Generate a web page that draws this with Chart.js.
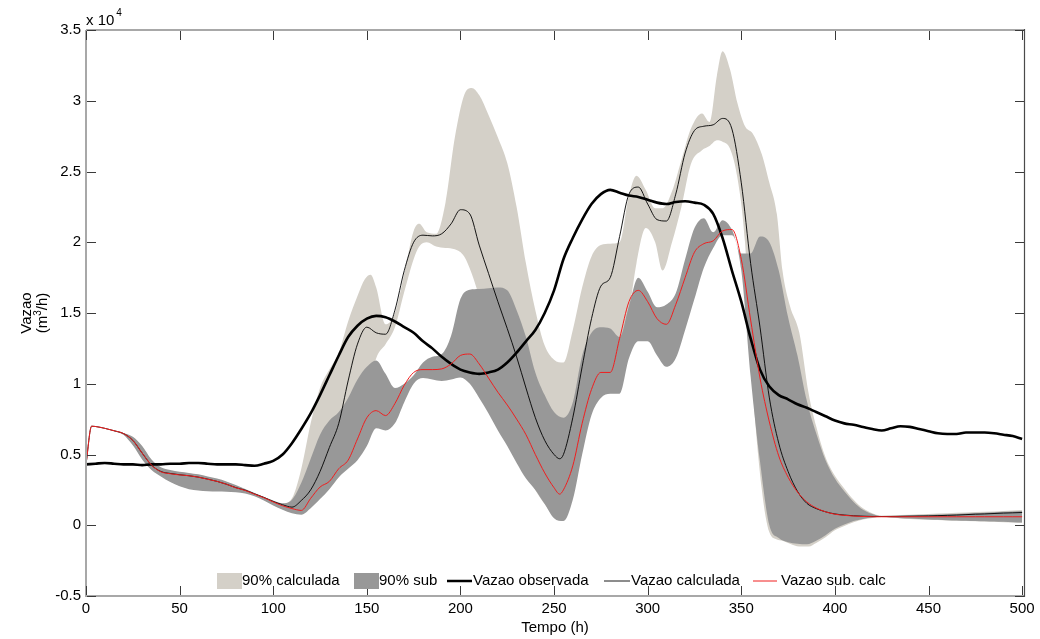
<!DOCTYPE html>
<html>
<head>
<meta charset="utf-8">
<script src="https://cdn.jsdelivr.net/npm/chart.js@4.4.1/dist/chart.umd.min.js"></script>
<style>
  html, body { margin: 0; padding: 0; background: #fff; }
  canvas { display: block; }
</style>
</head>
<body>
<canvas id="vazao" width="1040" height="639"></canvas>
<script>
// Hydrograph: observed discharge, calculated discharge and their 90% bands (values in 10^4 m3/h)

// observed discharge, samples every 5 h
const tObs = [
  0, 5, 10, 15, 20, 25, 30, 35, 40, 45,
  50, 55, 60, 65, 70, 75, 80, 85, 90, 95,
  100, 105, 110, 115, 120, 125, 130, 135, 140, 145,
  150, 155, 160, 165, 170, 175, 180, 185, 190, 195,
  200, 205, 210, 215, 220, 225, 230, 235, 240, 245,
  250, 255, 260, 265, 270, 275, 280, 285, 290, 295,
  300, 305, 310, 315, 320, 325, 330, 335, 340, 345,
  350, 355, 360, 365, 370, 375, 380, 385, 390, 395,
  400, 405, 410, 415, 420, 425, 430, 435, 440, 445,
  450, 455, 460, 465, 470, 475, 480, 485, 490, 495, 500
];
const vObservada = [
  0.43, 0.435, 0.44, 0.435, 0.43, 0.43, 0.425, 0.43, 0.43, 0.435,
  0.435, 0.44, 0.44, 0.435, 0.43, 0.43, 0.43, 0.425, 0.42, 0.435,
  0.455, 0.5, 0.58, 0.68, 0.79, 0.92, 1.06, 1.2, 1.33, 1.41,
  1.46, 1.48, 1.47, 1.44, 1.4, 1.36, 1.3, 1.25, 1.19, 1.14,
  1.1, 1.08, 1.07, 1.08, 1.1, 1.15, 1.22, 1.3, 1.38, 1.5,
  1.66, 1.88, 2.03, 2.16, 2.27, 2.34, 2.37, 2.35, 2.33, 2.32,
  2.3, 2.28, 2.27, 2.285, 2.29, 2.28, 2.265, 2.2, 2.03, 1.8,
  1.58, 1.32, 1.1, 0.98, 0.92, 0.89, 0.855, 0.83, 0.8, 0.77,
  0.74, 0.72, 0.71, 0.695, 0.68, 0.67, 0.685, 0.7, 0.695, 0.68,
  0.665, 0.65, 0.645, 0.645, 0.655, 0.655, 0.655, 0.65, 0.64, 0.63, 0.61
];

// calculated and sub-calculated discharge
const tCalc = [
  0, 3, 5, 10, 15, 20, 25, 30, 35, 40, 45,
  50, 55, 60, 65, 70, 75, 80, 85, 90, 95,
  100, 105, 110, 115, 120, 125, 130, 135, 140, 145,
  150, 155, 160, 165, 170, 175, 180, 185, 190, 195,
  200, 205, 210, 215, 220, 225, 230, 235, 240, 245, 250,
  253,
  255, 260, 265, 270, 275, 280, 285, 290, 295,
  300, 305, 310, 315, 320, 325, 330, 335, 340, 345,
  350, 355, 360, 365, 370, 375, 380, 385, 390, 395,
  400, 405, 410, 415, 420, 425, 430, 435, 440, 445,
  450, 455, 460, 465, 470, 475, 480, 485, 490, 495, 500
];
const vCalculada = [
  0.43, 0.70, 0.698, 0.685, 0.668, 0.648, 0.60, 0.51, 0.425, 0.38, 0.366,
  0.357, 0.35, 0.34, 0.326, 0.31, 0.29, 0.266, 0.248, 0.222, 0.197,
  0.168, 0.145, 0.128, 0.175, 0.25, 0.38, 0.55, 0.72, 1.02, 1.28,
  1.4, 1.36, 1.35, 1.52, 1.8, 2.0, 2.05, 2.045, 2.06, 2.13,
  2.23, 2.2, 1.98, 1.78, 1.58, 1.39, 1.19, 0.97, 0.76, 0.6, 0.5,
  0.47,
  0.5, 0.76, 1.12, 1.46, 1.69, 1.75, 2.04, 2.34, 2.39,
  2.27, 2.16, 2.15, 2.34, 2.63, 2.79, 2.82, 2.83, 2.875, 2.8,
  2.42, 1.85, 1.4, 0.9, 0.58, 0.38, 0.24, 0.155, 0.118, 0.095,
  0.08, 0.072, 0.067, 0.064, 0.062, 0.062, 0.062, 0.063, 0.064, 0.065,
  0.066, 0.068, 0.07, 0.072, 0.075, 0.078, 0.08, 0.083, 0.086, 0.088, 0.09
];
const vSubCalc = [
  0.43, 0.70, 0.698, 0.685, 0.668, 0.648, 0.60, 0.51, 0.425, 0.378, 0.364,
  0.356, 0.35, 0.34, 0.325, 0.31, 0.29, 0.265, 0.246, 0.22, 0.195,
  0.165, 0.138, 0.118, 0.105, 0.19, 0.27, 0.31, 0.4, 0.46, 0.61,
  0.76, 0.81, 0.775, 0.86, 0.99, 1.08, 1.1, 1.1, 1.105, 1.14,
  1.2, 1.21, 1.14, 1.04, 0.94, 0.85, 0.75, 0.64, 0.5, 0.37, 0.265,
  0.22,
  0.25, 0.42, 0.72, 0.96, 1.08, 1.08, 1.32, 1.58, 1.66,
  1.58, 1.46, 1.42, 1.56, 1.75, 1.93, 1.99, 2.01, 2.08, 2.09,
  1.88, 1.45, 1.04, 0.73, 0.49, 0.34, 0.235, 0.165, 0.122, 0.095,
  0.078, 0.07, 0.065, 0.062, 0.06, 0.06, 0.06, 0.06, 0.06, 0.06,
  0.06, 0.06, 0.06, 0.06, 0.06, 0.06, 0.06, 0.06, 0.06, 0.06, 0.06
];

// 90% band of the calculated discharge
const tBandCalc = [
  0, 3, 5, 10, 15, 20, 25, 30, 35, 40, 45,
  50, 55, 60, 65, 70, 75, 80, 85, 90, 95,
  100, 105, 110, 115, 120, 125, 130, 135, 140, 145,
  149, 152, 155, 160, 165, 170, 175, 178, 182, 187, 192, 197,
  202, 206, 210, 215, 220, 225, 230, 235, 240, 245, 250,
  255, 260, 265, 270, 275, 280, 285, 290, 294, 299,
  304, 308, 313, 318, 323, 329, 333, 337, 340, 344, 348,
  352, 356, 361, 365, 369, 372, 376, 381, 386, 390, 395,
  400, 405, 410, 415, 420, 425, 430, 440, 450, 460, 470, 480, 490, 500
];
const supCalc = [
  0.43, 0.70, 0.698, 0.685, 0.668, 0.65, 0.62, 0.555, 0.46, 0.405, 0.385,
  0.373, 0.365, 0.355, 0.34, 0.325, 0.305, 0.28, 0.252, 0.225, 0.197,
  0.172, 0.152, 0.19, 0.4, 0.72, 0.97, 1.1, 1.22, 1.44, 1.62,
  1.74, 1.77, 1.68, 1.42, 1.5, 1.78, 2.08, 2.13, 2.07, 2.06, 2.28, 2.74,
  3.04, 3.09, 3.04, 2.9, 2.74, 2.56, 2.25, 1.85, 1.52, 1.27, 1.17,
  1.15, 1.38, 1.68, 1.9, 1.98, 1.99, 2.0, 2.33, 2.47, 2.37,
  2.24, 2.24, 2.36, 2.58, 2.8, 2.91, 2.85, 3.18, 3.35, 3.22, 2.98,
  2.82, 2.77, 2.62, 2.42, 2.2, 1.8, 1.55, 1.36, 0.93, 0.7, 0.48,
  0.35, 0.26, 0.18, 0.12, 0.085, 0.068, 0.07, 0.075, 0.08, 0.085, 0.09, 0.095, 0.1, 0.108
];
const infCalc = [
  0.43, 0.70, 0.698, 0.685, 0.665, 0.642, 0.57, 0.47, 0.395, 0.35, 0.31,
  0.28, 0.26, 0.25, 0.245, 0.243, 0.242, 0.238, 0.23, 0.208, 0.178,
  0.143, 0.113, 0.09, 0.08, 0.125, 0.19, 0.26, 0.34, 0.42, 0.55,
  0.8, 1.0, 1.18, 1.28, 1.4, 1.65, 1.88, 1.97, 2.0, 1.97, 1.96, 1.95,
  1.9, 1.78, 1.62, 1.42, 1.2, 0.9, 0.6, 0.4, 0.25, 0.15, 0.06,
  0.04, 0.25, 0.6, 0.85, 0.95, 1.0, 1.1, 1.5, 1.85, 2.1,
  2.0, 1.8, 2.0, 2.25, 2.55, 2.65, 2.68, 2.72, 2.71, 2.66, 2.45,
  2.0, 1.0, 0.25, -0.05, -0.1, -0.11, -0.13, -0.15, -0.15, -0.125, -0.085,
  -0.035, -0.005, 0.022, 0.04, 0.052, 0.058, 0.053, 0.045, 0.039, 0.034, 0.03, 0.026, 0.022, 0.018
];

// 90% band of the sub-calculated discharge
const tBandSub = [
  0, 3, 5, 10, 15, 20, 25, 30, 35, 40, 45,
  50, 55, 60, 65, 70, 75, 80, 85, 90, 95,
  100, 105, 110, 115, 120, 125, 130, 135, 140, 145,
  150, 155, 160, 165, 170, 175, 180, 185, 190, 195,
  200, 205, 210, 215, 220, 225, 230, 235, 240, 245,
  250, 255, 260, 265, 270, 275, 280, 285, 290, 295,
  300, 305, 310, 315, 320, 325, 330, 335, 340, 345,
  350, 355, 360, 365, 370, 375, 380, 385, 390, 395,
  400, 405, 410, 415, 420, 425, 430, 435, 440, 445,
  450, 455, 460, 465, 470, 475, 480, 485, 490, 495, 500
];
const supSub = [
  0.43, 0.70, 0.698, 0.685, 0.668, 0.652, 0.625, 0.56, 0.465, 0.41, 0.39,
  0.378, 0.37, 0.36, 0.345, 0.33, 0.31, 0.285, 0.257, 0.228, 0.2,
  0.175, 0.155, 0.18, 0.3, 0.47, 0.64, 0.74, 0.8, 0.9, 1.03,
  1.12, 1.165, 1.07, 0.97, 1.0, 1.06, 1.15, 1.19, 1.21, 1.34,
  1.6, 1.665, 1.67, 1.675, 1.68, 1.66, 1.52, 1.33, 1.08, 0.92,
  0.8, 0.76, 0.87, 1.2, 1.36, 1.4, 1.39, 1.33, 1.55, 1.75,
  1.65, 1.54, 1.56, 1.64, 1.88, 2.1, 2.17, 2.07, 2.155, 2.09,
  1.92, 1.92, 2.04, 2.0, 1.8, 1.47, 1.2, 0.88, 0.65, 0.46,
  0.33, 0.24, 0.165, 0.11, 0.08, 0.065, 0.066, 0.068, 0.07, 0.072,
  0.074, 0.076, 0.078, 0.08, 0.083, 0.086, 0.089, 0.092, 0.095, 0.098, 0.1
];
const infSub = [
  0.43, 0.70, 0.698, 0.685, 0.665, 0.64, 0.565, 0.465, 0.39, 0.345, 0.305,
  0.275, 0.255, 0.245, 0.24, 0.238, 0.237, 0.233, 0.225, 0.205, 0.175,
  0.14, 0.11, 0.085, 0.075, 0.12, 0.185, 0.255, 0.34, 0.4, 0.46,
  0.56, 0.685, 0.67, 0.72, 0.87, 1.0, 1.04, 1.03, 1.02, 1.03,
  1.045, 1.0, 0.9, 0.79, 0.67, 0.56, 0.44, 0.33, 0.25, 0.15,
  0.05, 0.03, 0.18, 0.5, 0.78, 0.9, 0.93, 0.93, 1.18, 1.3,
  1.3, 1.2, 1.12, 1.18, 1.38, 1.6, 1.82, 1.96, 2.05, 2.05,
  1.8, 1.05, 0.45, 0.0, -0.09, -0.12, -0.13, -0.135, -0.11, -0.07,
  -0.025, 0.005, 0.03, 0.045, 0.055, 0.06, 0.055, 0.05, 0.047, 0.044,
  0.041, 0.038, 0.036, 0.034, 0.032, 0.03, 0.028, 0.026, 0.024, 0.022, 0.02
];

// axis ticks and labels
const xTicks = [0, 50, 100, 150, 200, 250, 300, 350, 400, 450, 500];
const yTicks = [-0.5, 0, 0.5, 1, 1.5, 2, 2.5, 3, 3.5];
const seriesNames = ['90% calculada', '90% sub', 'Vazao observada', 'Vazao calculada', 'Vazao sub. calc'];
const xTitle = 'Tempo (h)';
const yTitle = 'Vazao';
const yUnitParts = ['(m', '3', '/h)'];
const yExponent = ['x 10', '4'];

const FONT = '"Liberation Sans", Arial, Helvetica, sans-serif';
const LIGHT = 'rgb(212,208,200)';
const DARK = 'rgb(152,152,152)';
const RED = 'rgb(240,30,30)';

Chart.defaults.font.family = FONT;
Chart.defaults.font.size = 15;
Chart.defaults.color = '#000';

const pts = (ts, vs) => ts.map((t, i) => ({ x: t, y: vs[i] }));
const NONE = 'rgba(0,0,0,0)';

// axes box, inward ticks, titles and the in-plot legend
const decor = {
  id: 'decor',
  afterDraw(chart) {
    const { ctx, chartArea: a, scales: { x, y } } = chart;
    ctx.save();

    ctx.lineWidth = 2;
    ctx.strokeStyle = '#a8a8a8';
    ctx.beginPath();
    ctx.moveTo(a.left, a.top); ctx.lineTo(a.left, a.bottom); ctx.lineTo(a.right, a.bottom);
    ctx.moveTo(a.left, a.top); ctx.lineTo(a.right, a.top);
    ctx.stroke();
    ctx.lineWidth = 1.2;
    ctx.strokeStyle = '#4a4a4a';
    ctx.beginPath();
    ctx.moveTo(a.right + 0.5, a.top - 1); ctx.lineTo(a.right + 0.5, a.bottom + 1);
    ctx.stroke();

    ctx.lineWidth = 1;
    ctx.strokeStyle = '#3a3a3a';
    ctx.beginPath();
    x.ticks.forEach(t => {
      const px = Math.round(x.getPixelForValue(t.value)) + 0.5;
      ctx.moveTo(px, a.bottom - 1); ctx.lineTo(px, a.bottom - 10);
      ctx.moveTo(px, a.top + 1); ctx.lineTo(px, a.top + 10);
    });
    y.ticks.forEach(t => {
      const py = Math.round(y.getPixelForValue(t.value)) + 0.5;
      ctx.moveTo(a.left + 1, py); ctx.lineTo(a.left + 10, py);
      ctx.moveTo(a.right, py); ctx.lineTo(a.right - 9, py);
    });
    ctx.stroke();

    ctx.fillStyle = '#000';
    ctx.textAlign = 'left';
    ctx.textBaseline = 'alphabetic';
    ctx.font = `15px ${FONT}`;
    ctx.fillText(yExponent[0], a.left, 25);
    const ew = ctx.measureText(yExponent[0]).width;
    ctx.font = `10px ${FONT}`;
    ctx.fillText(yExponent[1], a.left + ew + 2, 16);

    ctx.font = `15px ${FONT}`;
    ctx.textAlign = 'center';
    ctx.textBaseline = 'middle';
    ctx.fillText(xTitle, (a.left + a.right) / 2, 628);

    ctx.save();
    ctx.translate(31, (a.top + a.bottom) / 2);
    ctx.rotate(-Math.PI / 2);
    ctx.textBaseline = 'alphabetic';
    ctx.textAlign = 'center';
    ctx.font = `15px ${FONT}`;
    ctx.fillText(yTitle, 0, 0);
    const big = `15px ${FONT}`, small = `10px ${FONT}`;
    ctx.font = big; const w0 = ctx.measureText(yUnitParts[0]).width;
    ctx.font = small; const w1 = ctx.measureText(yUnitParts[1]).width;
    ctx.font = big; const w2 = ctx.measureText(yUnitParts[2]).width;
    let cx = -(w0 + w1 + w2) / 2;
    ctx.textAlign = 'left';
    ctx.font = big; ctx.fillText(yUnitParts[0], cx, 16); cx += w0;
    ctx.font = small; ctx.fillText(yUnitParts[1], cx, 10); cx += w1;
    ctx.font = big; ctx.fillText(yUnitParts[2], cx, 16);
    ctx.restore();

    // legend row inside the plot
    const ly = 581;
    ctx.font = `15px ${FONT}`;
    ctx.textAlign = 'left';
    ctx.textBaseline = 'middle';
    ctx.fillStyle = LIGHT; ctx.fillRect(217, 573, 25, 16);
    ctx.fillStyle = DARK; ctx.fillRect(354, 573, 25, 16);
    const seg = (x0, x1, color, width) => {
      ctx.strokeStyle = color; ctx.lineWidth = width;
      ctx.beginPath(); ctx.moveTo(x0, ly); ctx.lineTo(x1, ly); ctx.stroke();
    };
    seg(447, 472, '#000', 2.5);
    seg(604, 630, '#000', 0.9);
    seg(753, 777, RED, 1);
    ctx.fillStyle = '#000';
    const textX = [242, 379, 473, 631, 781];
    seriesNames.forEach((n, i) => ctx.fillText(n, textX[i], ly));

    ctx.restore();
  }
};

new Chart(document.getElementById('vazao'), {
  type: 'line',
  data: {
    datasets: [
      { label: seriesNames[0], data: pts(tBandCalc, supCalc), fill: '+1', backgroundColor: LIGHT,
        borderColor: NONE, borderWidth: 0, order: 10 },
      { label: seriesNames[0] + ' inf', data: pts(tBandCalc, infCalc), fill: false,
        borderColor: NONE, borderWidth: 0, order: 10 },
      { label: seriesNames[1], data: pts(tBandSub, supSub), fill: '+1', backgroundColor: DARK,
        borderColor: NONE, borderWidth: 0, order: 9 },
      { label: seriesNames[1] + ' inf', data: pts(tBandSub, infSub), fill: false,
        borderColor: NONE, borderWidth: 0, order: 9 },
      { label: seriesNames[2], data: pts(tObs, vObservada), borderColor: '#000', borderWidth: 2.6,
        fill: false, order: 3 },
      { label: seriesNames[3], data: pts(tCalc, vCalculada), borderColor: '#000', borderWidth: 0.9,
        fill: false, order: 2 },
      { label: seriesNames[4], data: pts(tCalc, vSubCalc), borderColor: RED, borderWidth: 1,
        fill: false, order: 1 }
    ]
  },
  options: {
    responsive: false,
    animation: false,
    devicePixelRatio: 1,
    layout: { padding: { top: 30, right: 16, left: 0, bottom: 0 } },
    elements: {
      point: { radius: 0, hoverRadius: 0 },
      line: { cubicInterpolationMode: 'monotone' }
    },
    plugins: {
      legend: { display: false },
      tooltip: { enabled: false }
    },
    events: [],
    scales: {
      x: {
        type: 'linear', min: 0, max: 501,
        afterBuildTicks: s => { s.ticks = xTicks.map(v => ({ value: v })); },
        afterFit: s => { s.height = 43; },
        grid: { display: false, drawTicks: false },
        border: { display: false },
        ticks: { padding: 4, maxRotation: 0, autoSkip: false, callback: v => String(v) }
      },
      y: {
        type: 'linear', min: -0.5, max: 3.5,
        afterBuildTicks: s => { s.ticks = yTicks.map(v => ({ value: v })); },
        afterFit: s => { s.width = 86; },
        grid: { display: false, drawTicks: false },
        border: { display: false },
        ticks: { padding: 5, autoSkip: false, callback: v => String(v) }
      }
    }
  },
  plugins: [decor]
});
</script>
</body>
</html>
